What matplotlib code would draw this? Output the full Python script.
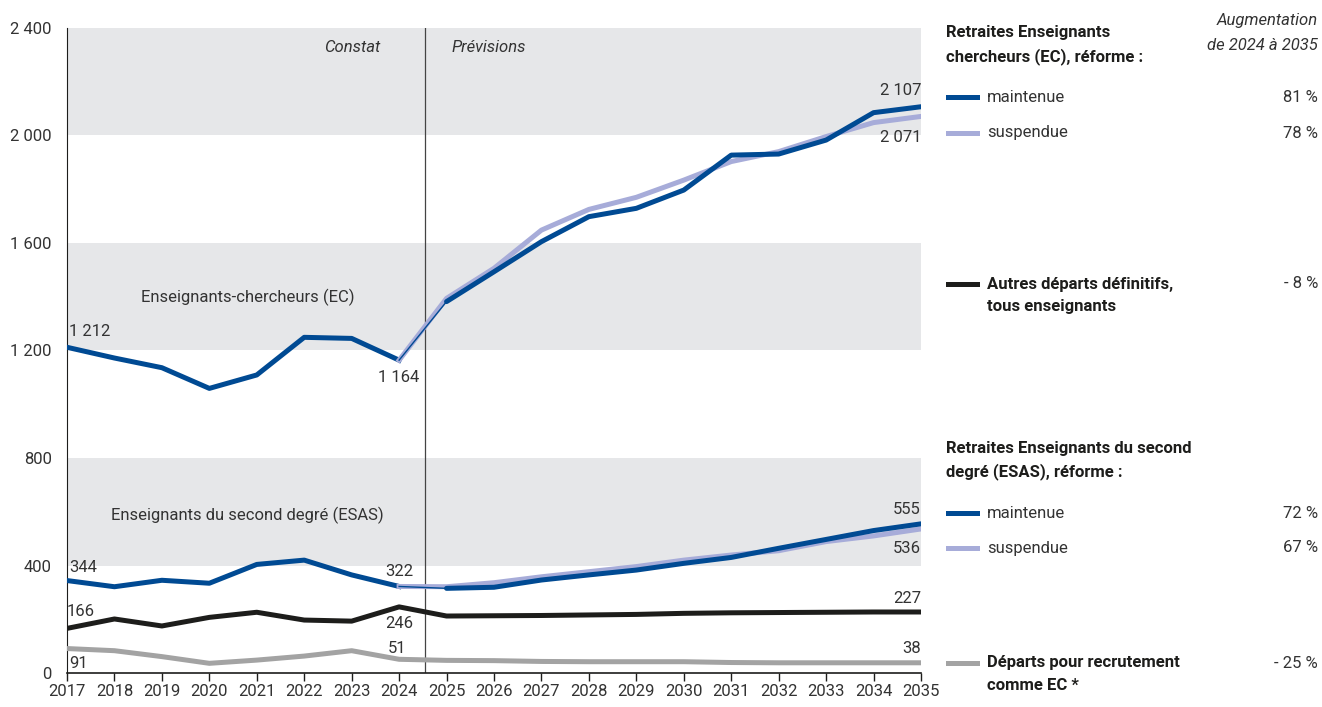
import matplotlib.pyplot as plt

plt.rcParams['font.family'] = ['Roboto', 'DejaVu Sans']

years = list(range(2017, 2036))
hist_years = list(range(2017, 2025))
proj_years = list(range(2024, 2036))

# EC retirements
ec_hist = [1212, 1172, 1136, 1059, 1109, 1249, 1245, 1164]
ec_maint = [1164, 1382, 1493, 1605, 1698, 1729, 1797, 1927, 1931, 1983, 2085, 2107]
ec_susp = [1164, 1394, 1506, 1648, 1725, 1770, 1834, 1903, 1940, 1996, 2048, 2071]

# ESAS retirements
esas_hist = [344, 321, 345, 334, 404, 420, 365, 322]
esas_maint = [322, 315, 319, 346, 365, 383, 408, 430, 464, 497, 530, 555]
esas_susp = [322, 321, 336, 358, 377, 396, 420, 439, 455, 489, 510, 536]

# other departures
autres = [166, 201, 175, 207, 226, 197, 193, 246, 212, 213, 214, 216, 218, 222, 224, 225, 226, 227, 227]
recrut = [91, 83, 61, 36, 48, 63, 83, 51, 47, 46, 43, 42, 42, 42, 39, 38, 38, 38, 38]

pct_labels = ["81 %", "78 %", "- 8 %", "72 %", "67 %", "- 25 %"]

DARK = "#004a93"
LIGHT = "#a7acd9"
BLACK = "#1d1d1b"
GREY = "#a3a3a3"
TXT = "#333333"

W, H = 1322, 707
fig = plt.figure(figsize=(W / 100, H / 100), dpi=100)
ax = fig.add_axes([67 / W, 34 / H, 854 / W, 645 / H])

for lo, hi in [(400, 800), (1200, 1600), (2000, 2400)]:
    ax.axhspan(lo, hi, color="#e6e7e9", lw=0, zorder=0)

ax.axvline(2024.55, color="#444444", lw=0.9, zorder=1)

lw = 3.6
ax.plot(hist_years, ec_hist, color=DARK, lw=lw, zorder=3)
ax.plot(proj_years, ec_susp, color=LIGHT, lw=lw, zorder=3)
ax.plot(proj_years[1:], ec_maint[1:], color=DARK, lw=lw, zorder=4, solid_capstyle="round")
ax.plot(proj_years[:2], ec_maint[:2], color=DARK, lw=1, zorder=4)

ax.plot(hist_years, esas_hist, color=DARK, lw=lw, zorder=3)
ax.plot(proj_years, esas_susp, color=LIGHT, lw=lw, zorder=3)
ax.plot(proj_years[1:], esas_maint[1:], color=DARK, lw=lw, zorder=4, solid_capstyle="round")
ax.plot(proj_years[:2], esas_maint[:2], color=DARK, lw=1, zorder=4)

ax.plot(years, autres, color=BLACK, lw=lw, zorder=3)
ax.plot(years, recrut, color=GREY, lw=lw, zorder=3)

ax.set_xlim(2017, 2035)
ax.set_ylim(0, 2400)
ax.set_xticks(years)
ax.set_yticks([0, 400, 800, 1200, 1600, 2000, 2400])
ax.set_yticklabels(["0", "400", "800", "1 200", "1 600", "2 000", "2 400"])
ax.tick_params(axis="x", length=6, width=1, direction="out", labelsize=12, pad=2, colors=BLACK, labelcolor=TXT)
ax.tick_params(axis="y", length=0, labelsize=12, pad=11, labelcolor=TXT)
for s in ["top", "right"]:
    ax.spines[s].set_visible(False)
ax.spines["left"].set_color(BLACK)
ax.spines["bottom"].set_color(BLACK)
ax.spines["bottom"].set_linewidth(1.2)

fs = 12
ax.text(2023.6, 2329, "Constat", style="italic", fontsize=fs, color=TXT, ha="right", va="center")
ax.text(2025.1, 2329, "Prévisions", style="italic", fontsize=fs, color=TXT, ha="left", va="center")
ax.text(2020.8, 1399, "Enseignants-chercheurs (EC)", fontsize=fs, color=TXT, ha="center", va="center")
ax.text(2020.8, 588, "Enseignants du second degré (ESAS)", fontsize=fs, color=TXT, ha="center", va="center")

def lab(x, y, s, ha):
    ax.text(x, y, s, fontsize=fs, color=TXT, ha=ha, va="center", zorder=5)

lab(2017.05, 1269, "1 212", "left")
lab(2024, 1101, "1 164", "center")
lab(2035, 2169, "2 107", "right")
lab(2035, 1994, "2 071", "right")
lab(2017.05, 391, "344", "left")
lab(2024, 376, "322", "center")
lab(2035, 610, "555", "right")
lab(2035, 465, "536", "right")
lab(2017.0, 227, "166", "left")
lab(2024, 186, "246", "center")
lab(2035, 279, "227", "right")
lab(2017.05, 37, "91", "left")
lab(2023.95, 93, "51", "center")
lab(2035, 93, "38", "right")

# legend panel (figure pixel positions)
def fx(px):
    return px / W

def fy(py):
    return 1 - py / H

fig.text(fx(1318), fy(20), "Augmentation", style="italic", fontsize=12, color=TXT, ha="right", va="center")
fig.text(fx(1318), fy(45), "de 2024 à 2035", style="italic", fontsize=12, color=TXT, ha="right", va="center")

fig.text(fx(946), fy(33), "Retraites Enseignants", fontsize=12, weight="bold", color=BLACK, va="center")
fig.text(fx(946), fy(57), "chercheurs (EC), réforme :", fontsize=12, weight="bold", color=BLACK, va="center")
fig.text(fx(946), fy(449), "Retraites Enseignants du second", fontsize=12, weight="bold", color=BLACK, va="center")
fig.text(fx(946), fy(472), "degré (ESAS), réforme :", fontsize=12, weight="bold", color=BLACK, va="center")

entries = [
    (97, DARK, ["maintenue"], "normal"),
    (133, LIGHT, ["suspendue"], "normal"),
    (284, BLACK, ["Autres départs définitifs,", "tous enseignants"], "bold"),
    (513, DARK, ["maintenue"], "normal"),
    (548, LIGHT, ["suspendue"], "normal"),
    (663, GREY, ["Départs pour recrutement", "comme EC *"], "bold"),
]
for (py, col, lines, wt), pct in zip(entries, pct_labels):
    fig.add_artist(plt.Line2D([fx(948), fx(977)], [fy(py), fy(py)], color=col, lw=3.6))
    for i, t in enumerate(lines):
        fig.text(fx(987), fy(py + 23 * i), t, fontsize=12, weight=wt,
                 color=BLACK if wt == "bold" else TXT, va="center")
    fig.text(fx(1318), fy(py), pct, fontsize=12, color=TXT, ha="right", va="center")

fig.savefig("out.png", dpi=100)
